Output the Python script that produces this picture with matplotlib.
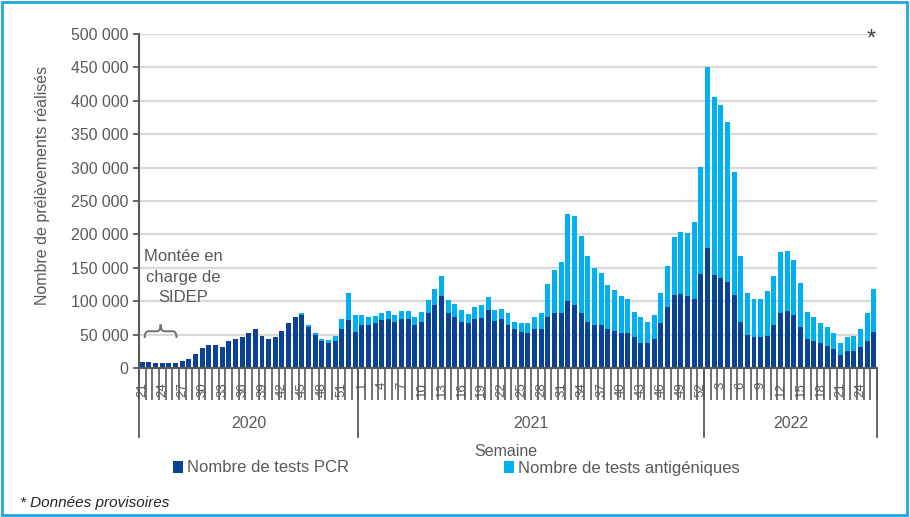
import matplotlib
matplotlib.use("Agg")
import matplotlib.pyplot as plt
import numpy as np
from matplotlib.patches import Rectangle, Patch
from matplotlib.path import Path
from matplotlib.patches import PathPatch
from matplotlib.ticker import FuncFormatter

plt.rcParams["font.family"] = ["Liberation Sans", "DejaVu Sans"]

# Weekly data (thousands of samples), 2020-S21 .. 2022-S26
weeks_2020 = list(range(21, 54))
weeks_2021 = list(range(1, 53))
weeks_2022 = list(range(1, 27))
years = ["2020", "2021", "2022"]

pcr = [9.5, 9.5, 7, 7, 7, 7, 11, 13, 21, 30, 34, 34, 32, 40, 44, 46, 53, 59, 48, 44,
       46, 55, 67, 77, 79, 62, 49, 41, 37, 40, 59, 72, 54,
       64, 64, 67, 72, 73, 69, 73, 73, 64, 69, 83, 94, 108, 83, 77, 69, 67, 73,
       75, 87, 71, 73, 65, 58, 54, 52, 58, 58, 77, 83, 83, 100, 94, 83, 69, 65,
       64, 58, 55, 52, 52, 46, 38, 37, 44, 68, 91, 109, 111, 108, 104, 141,
       179, 139, 135, 129, 109, 69, 50, 46, 46, 48, 64, 83, 85, 79, 62, 44, 40,
       37, 33, 29, 19, 25, 25, 31, 41, 54]
total = [9.5, 9.5, 7, 7, 7, 7, 11, 13, 21, 30, 34, 34, 32, 40, 44, 46, 53, 59, 48, 44,
         46, 55, 67, 77, 83, 65, 52, 44, 42, 48, 74, 113, 79,
         80, 77, 78, 83, 86, 79, 86, 86, 77, 84, 102, 119, 138, 102, 96, 87, 81, 91,
         94, 106, 87, 88, 83, 69, 67, 67, 77, 83, 125, 147, 158, 231, 227, 198, 167, 150,
         142, 125, 117, 108, 104, 84, 77, 69, 80, 113, 153, 196, 204, 202, 219, 301,
         450, 405, 394, 369, 294, 167, 113, 104, 104, 115, 138, 173, 175, 162, 127, 84, 77,
         67, 61, 52, 38, 46, 48, 59, 83, 118]

PCR_COLOR = "#0a4396"
AG_COLOR = "#00b0f0"
TEXT = "#595959"
AXIS = "#595959"


def main():
    weeks = weeks_2020 + weeks_2021 + weeks_2022
    pcr_v = np.array(pcr) * 1000
    ag_v = (np.array(total) - np.array(pcr)) * 1000
    x = np.arange(len(weeks))

    fig = plt.figure(figsize=(9.10, 5.17), dpi=100)
    ax = fig.add_axes([139 / 910, 1 - 368 / 517, 738 / 910, 334 / 517])

    ax.bar(x, pcr_v, width=0.75, color=PCR_COLOR, zorder=2)
    ax.bar(x, ag_v, bottom=pcr_v, width=0.75, color=AG_COLOR, zorder=2)

    ax.set_xlim(-0.5, len(weeks) - 0.5)
    ax.set_ylim(0, 500000)
    ax.set_yticks(np.arange(0, 500001, 50000))
    ax.yaxis.set_major_formatter(FuncFormatter(lambda v, p: f"{v:,.0f}".replace(",", " ")))
    ax.grid(axis="y", color="#d9d9d9", linewidth=1.6, zorder=0)
    ax.set_axisbelow(True)

    for s in ["top", "right"]:
        ax.spines[s].set_visible(False)
    for s in ["left", "bottom"]:
        ax.spines[s].set_color(AXIS)
        ax.spines[s].set_linewidth(1.5)

    ax.tick_params(axis="y", length=4.5, width=1.3, color=AXIS, labelsize=11.4,
                   labelcolor=TEXT, pad=3)

    # week labels every third category, category tick marks between bars
    ax.set_xticks(x[::3])
    ax.set_xticklabels([str(w) for w in weeks[::3]], rotation=90)
    ax.set_xticks(np.arange(-0.5, len(weeks), 1), minor=True)
    ax.tick_params(axis="x", which="major", length=0, pad=10, labelsize=9.5, labelcolor=TEXT)
    ax.tick_params(axis="x", which="minor", length=23, width=1.2, color=AXIS)

    # year groups
    trans = ax.get_xaxis_transform()
    bounds = [-0.5, len(weeks_2020) - 0.5, len(weeks_2020) + len(weeks_2021) - 0.5,
              len(weeks) - 0.5]
    for b in bounds:
        ax.plot([b, b], [0, -0.207], transform=trans, color=AXIS, lw=1.3, clip_on=False)
    for i, yr in enumerate(years):
        ax.text((bounds[i] + bounds[i + 1]) / 2, -0.165, yr, transform=trans,
                ha="center", va="center", fontsize=11.5, color=TEXT)

    ax.set_ylabel("Nombre de prélèvements réalisés", fontsize=11.5, color=TEXT)
    ax.yaxis.set_label_coords(-0.12, 0.548)

    # annotation SIDEP
    ax.text(6.1, 136000, "Montée en\ncharge de\nSIDEP", ha="center", va="center",
            fontsize=12, color=TEXT, linespacing=1.45)
    x0, x1, y0, y1 = 0.35, 5.15, 45000, 65000
    ym = (y0 + y1) / 2
    xm = (x0 + x1) / 2
    dx = (x1 - x0) * 0.12
    verts = [(x0, y0), (x0, ym), (x0 + dx, ym), (xm - dx, ym), (xm, ym), (xm, y1),
             (xm, ym), (xm + dx, ym), (x1 - dx, ym), (x1, ym), (x1, y0)]
    codes = [Path.MOVETO, Path.CURVE3, Path.CURVE3, Path.LINETO, Path.CURVE3, Path.CURVE3,
             Path.CURVE3, Path.CURVE3, Path.LINETO, Path.CURVE3, Path.CURVE3]
    ax.add_patch(PathPatch(Path(verts, codes), fill=False, edgecolor="#6f6f6f", lw=1.4,
                           zorder=3))

    fig.text(1 - 39 / 910, 1 - 40 / 517, "*", fontsize=17, color="#404040",
             ha="center", va="center")
    fig.text(506 / 910, 1 - 452 / 517, "Semaine", fontsize=11.5, color=TEXT,
             ha="center", va="center")

    handles = [Patch(facecolor=PCR_COLOR, label="Nombre de tests PCR"),
               Patch(facecolor=AG_COLOR, label="Nombre de tests antigéniques")]
    leg = fig.legend(handles=handles, loc="center left", ncol=2,
                     bbox_to_anchor=(173 / 910, 1 - 468 / 517), frameon=False,
                     fontsize=12, handlelength=0.6, handleheight=0.7,
                     handletextpad=0.25, columnspacing=9.3, borderpad=0, borderaxespad=0)
    for t in leg.get_texts():
        t.set_color(TEXT)

    fig.text(20 / 910, 1 - 503 / 517, "* Données provisoires", fontsize=11,
             style="italic", color="#262626", ha="left", va="center")

    fig.patches.append(Rectangle((0.002, 0.003), 0.995, 0.993, transform=fig.transFigure,
                                 fill=False, edgecolor="#1ea7e1", lw=2))

    fig.savefig("out.png", dpi=100)
    plt.close(fig)


if __name__ == "__main__":
    main()
